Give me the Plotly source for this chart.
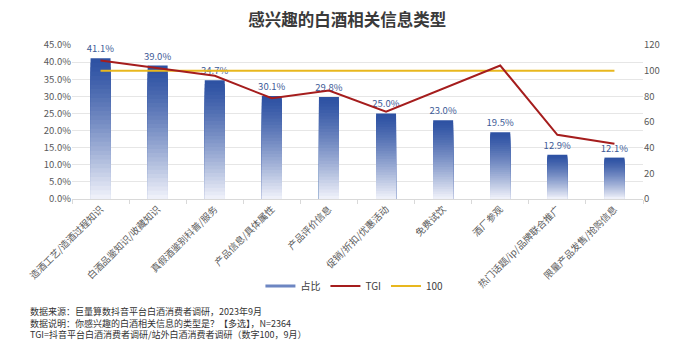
import plotly.graph_objects as go

categories = ["造酒工艺/造酒过程知识", "白酒品鉴知识/收藏知识", "真假酒鉴别科普/服务",
              "产品信息/具体属性", "产品评价信息", "促销/折扣/优惠活动", "免费试饮",
              "酒厂参观", "热门话题/ip/品牌联合推广", "限量产品发售/抢购信息"]
share = [41.1, 39.0, 34.7, 30.1, 29.8, 25.0, 23.0, 19.5, 12.9, 12.1]
tgi = [108, 102, 96, 78.5, 84.5, 68, 86, 104, 50, 43]
baseline = [100] * len(categories)

FONT = "Noto Sans CJK SC, Noto Sans, sans-serif"
dark = (46, 82, 163)
light = (238, 240, 249)

def lerp(a, b, t):
    return "rgb(%d,%d,%d)" % tuple(round(a[i] + (b[i] - a[i]) * t) for i in range(3))

fig = go.Figure()
N = 32
for k in range(N):
    frac = (N - k) / N
    t = (k / (N - 1)) ** 1.25
    fig.add_trace(go.Bar(
        x=categories, y=[v * frac for v in share],
        marker=dict(color=lerp(dark, light, t), line=dict(width=0)),
        width=0.35, showlegend=False, hoverinfo="skip",
        text=[f"{v:.1f}%" for v in share] if k == 0 else None,
        textposition="outside" if k == 0 else None,
        constraintext="none",
        textfont=dict(size=9.5, color="#3d5a96", family=FONT),
        cliponaxis=False,
    ))

fig.add_trace(go.Scatter(x=categories, y=baseline, yaxis="y2", mode="lines",
                         line=dict(color="#e8b71e", width=2), name="100", showlegend=False))
fig.add_trace(go.Scatter(x=categories, y=tgi, yaxis="y2", mode="lines",
                         line=dict(color="#a51d1d", width=2), name="TGI", showlegend=False))

# legend entries
fig.add_trace(go.Scatter(x=[None], y=[None], mode="lines", name="占比",
                         line=dict(color="#6d86c2", width=3)))
fig.add_trace(go.Scatter(x=[None], y=[None], mode="lines", name="TGI",
                         line=dict(color="#a51d1d", width=2)))
fig.add_trace(go.Scatter(x=[None], y=[None], mode="lines", name="100",
                         line=dict(color="#e8b71e", width=2)))

notes = ["数据来源：巨量算数抖音平台白酒消费者调研，2023年9月",
         "数据说明：你感兴趣的白酒相关信息的类型是？【多选】，N=2364",
         "TGI=抖音平台白酒消费者调研/站外白酒消费者调研（数字100，9月）"]
annotations = [dict(text="<br>".join(notes), xref="paper", yref="paper", x=-0.077,
                    y=(199.5 - 324) / 155, xanchor="left", yanchor="middle",
                    align="left", showarrow=False,
                    font=dict(size=9, color="#333333", family=FONT))]

fig.update_layout(
    width=700, height=364,
    margin=dict(l=71.5, r=56.5, t=44.5, b=164.5),
    paper_bgcolor="white", plot_bgcolor="white",
    barmode="overlay",
    title=dict(text="<b>感兴趣的白酒相关信息类型</b>", x=0.496, xanchor="center",
               y=1 - 20 / 364, yanchor="middle",
               font=dict(size=16.5, color="#3a3a3a", family=FONT)),
    font=dict(family=FONT, color="#595959"),
    xaxis=dict(type="category", tickangle=-45, tickfont=dict(size=9.5, color="#595959"),
               showline=True, linecolor="#d9d9d9", ticks="outside", tickson="boundaries",
               ticklen=4, tickcolor="#d9d9d9", showgrid=False),
    yaxis=dict(range=[0, 45], dtick=5, tickformat=".1f", ticksuffix="%",
               showgrid=True, gridcolor="#e6e6e6", zeroline=False,
               tickfont=dict(size=9.5, color="#595959")),
    yaxis2=dict(range=[0, 120], dtick=20, overlaying="y", side="right",
                showgrid=False, zeroline=False, tickfont=dict(size=9.5, color="#595959")),
    legend=dict(orientation="h", x=0.33, xanchor="left", y=(199.5 - 287) / 155,
                yanchor="middle", font=dict(size=10, color="#404040", family=FONT),
                itemwidth=30, tracegroupgap=0, bgcolor="rgba(0,0,0,0)"),
    annotations=annotations,
)

fig.write_html("out.html", config={"displayModeBar": False},
               post_script="document.body.style.margin='0';document.body.style.padding='0';")
